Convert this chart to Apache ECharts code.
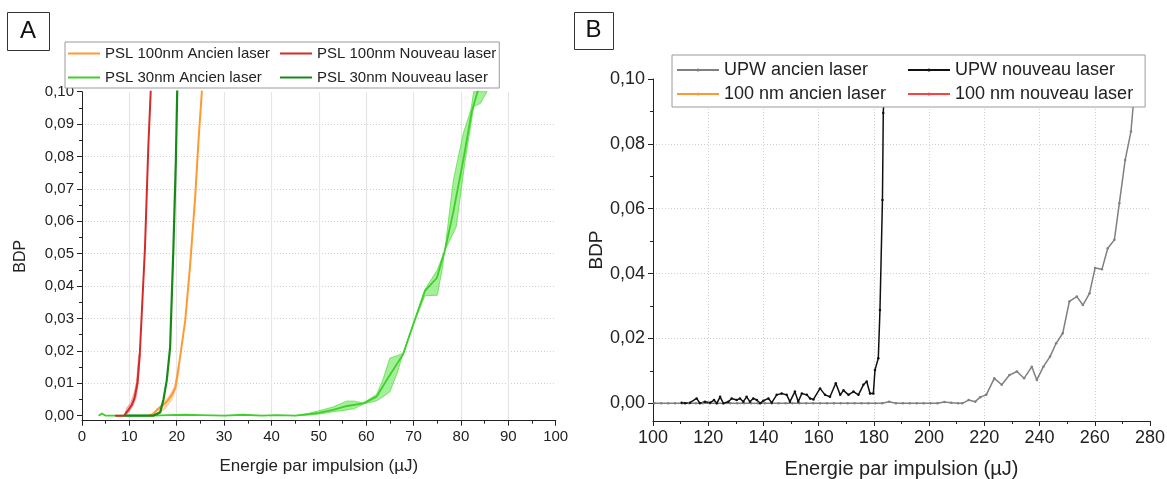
<!DOCTYPE html>
<html><head><meta charset="utf-8">
<script src="https://cdn.jsdelivr.net/npm/echarts@6/dist/echarts.min.js"></script>
<style>html,body{margin:0;padding:0;background:#fff}#c{width:1167px;height:479px}</style>
</head><body><div id="c"></div>
<script>
// ---------- Panel A data (Energie µJ, BDP) ----------
const namesA = ['PSL 100nm Ancien laser','PSL 100nm Nouveau laser','PSL 30nm Ancien laser','PSL 30nm Nouveau laser'];
const psl100Ancien = [[14,0],[15,0.0004],[15.8,0.0018],[16.8,0.003],[17.9,0.0043],[19,0.0065],[19.7,0.0085],[20.7,0.018],[21.8,0.0295],[22.8,0.046],[23.9,0.0676],[24.6,0.085],[25.3,0.1],[25.7,0.11]];
const psl100AncienUpper = [[14,0],[15.5,0.0015],[17,0.0038],[18.5,0.0062],[19.5,0.009],[20.3,0.014]];
const psl100AncienLower = [[14,0],[16,0.0008],[17.5,0.002],[19,0.005],[20,0.0095],[20.6,0.015]];
const psl100Nouveau = [[7,0],[8,0],[8.9,0],[9.8,0.0018],[10.5,0.0033],[11.1,0.0055],[11.7,0.010],[12.2,0.019],[12.7,0.034],[13.3,0.052],[14,0.083],[14.5,0.1],[14.8,0.11]];
const psl100NouveauUpper = [[8.9,0],[9.5,0.0025],[10.3,0.004],[11,0.007],[11.5,0.0105],[12,0.019]];
const psl100NouveauLower = [[8.9,0],[9.8,0.001],[10.7,0.0028],[11.5,0.006],[11.9,0.0105],[12.3,0.019]];
const psl30Ancien = [[3.5,0],[4.2,0.0007],[5,0],[10,0],[15,0],[18,0.0002],[22,0.0003],[25,0.0002],[30,0],[34,0.0003],[38,0],[41,0.0002],[45,0],[48,0.0005],[50,0.0009],[53,0.0018],[56,0.003],[59.4,0.0038],[62.2,0.0059],[65,0.0126],[67.8,0.019],[70,0.0285],[72.4,0.0385],[74.9,0.0425],[76.6,0.051],[78.4,0.063],[80.5,0.079],[82.3,0.094],[83.5,0.1],[84.5,0.105]];
const psl30AncienUpper = [[45,0],[48,0.0008],[50,0.0015],[53,0.0027],[55.9,0.0045],[57.5,0.0045],[59.4,0.0039],[62.2,0.0066],[63.5,0.011],[65,0.0178],[66.5,0.0185],[67.8,0.0193],[70,0.0285],[72.4,0.039],[73.5,0.0415],[75,0.045],[76.6,0.051],[78.4,0.0727],[80.5,0.0872],[82.1,0.0944],[82.7,0.1]];
const psl30AncienLower = [[45,0],[48,0.0002],[50,0.0005],[53,0.0012],[55.9,0.0018],[57.5,0.0022],[59.4,0.0036],[62.2,0.0046],[63.5,0.0058],[65,0.0074],[66.5,0.013],[67.8,0.0193],[70,0.0285],[72.4,0.037],[75,0.0372],[76,0.045],[76.6,0.051],[79,0.0583],[80.8,0.0779],[82.7,0.0954],[84.1,0.0964],[85.5,0.1]];
const psl30Nouveau = [[9,0],[12,0],[15,0],[16.5,0.001],[17.2,0.005],[17.9,0.011],[18.6,0.021],[19.3,0.052],[19.8,0.078],[20.1,0.1],[20.3,0.11]];
const xTicksA = [0,10,20,30,40,50,60,70,80,90,100];
const yTicksA = [0,0.01,0.02,0.03,0.04,0.05,0.06,0.07,0.08,0.09,0.1];

// ---------- Panel B data ----------
const namesB = ['UPW ancien laser','UPW nouveau laser','100 nm ancien laser','100 nm nouveau laser'];
const upwAncien = [[100.5,0],[103,0],[105.5,0],[108,0],[110.5,0],[113,0],[115.5,0],[118,0],[120.5,0],[123,0],[125.5,0],[128,0],[130.5,0],[133,0],[135.5,0],[138,0],[140.5,0],[143,0],[145.5,0],[148,0],[150.5,0],[153,0],[155.5,0],[158,0],[160.5,0],[163,0],[165.5,0],[168,0],[170.5,0],[173,0],[175.5,0],[178,0],[180.5,0],[183,0],[185.5,0.0005],[188,0],[190.5,0],[193,0],[195.5,0],[198,0],[200.5,0],[203,0],[205.5,0.0004],[208,0.0002],[210.5,0],[212,0],[214.3,0.001],[216.7,0.0005],[218.5,0.0019],[220.7,0.0026],[223.6,0.0077],[226.3,0.0057],[229.1,0.0087],[231.8,0.0098],[234.4,0.0077],[237.2,0.0113],[239,0.0072],[241.4,0.0113],[243.8,0.0144],[246,0.0185],[248.4,0.0216],[250.8,0.0314],[253.5,0.0329],[255.7,0.0303],[258.1,0.0339],[260.1,0.0417],[262.6,0.0413],[264.7,0.0478],[267.1,0.0504],[268.9,0.0617],[271,0.075],[273.1,0.0838],[274,0.0926],[275,0.105]];
const upwNouveau = [[110.4,0.0002],[111.6,0],[113.4,0.0002],[115.8,0.0015],[117,0],[118.8,0.0005],[120.7,0.0002],[122.1,0.001],[123.1,0],[124.3,0.002],[125.5,0],[127.3,0.0005],[128.5,0.0015],[130.3,0.001],[131.5,0.0015],[132.7,0.0005],[133.9,0.002],[135.1,0.0005],[136.3,0.0015],[137.6,0.001],[138.8,0],[140,0.0008],[141.8,0.0015],[143,0.0002],[144.8,0.0026],[146.6,0.003],[148.4,0.0026],[149.6,0.0005],[151.4,0.0036],[152.6,0.0005],[153.9,0.003],[155.7,0.0026],[156.9,0.0015],[158.1,0.0012],[160.5,0.0046],[162.3,0.0026],[164.1,0.002],[166.2,0.0062],[167.8,0.0026],[169,0.004],[170.8,0.0026],[172.6,0.0036],[174.4,0.0026],[176.2,0.0057],[177.4,0.0067],[178.6,0.003],[179.8,0.003],[180.4,0.0103],[181.6,0.0139],[182.2,0.0288],[183.1,0.0627],[183.4,0.0895],[183.7,0.0957],[184,0.12]];
const nm100Ancien = [];
const nm100Nouveau = [];
const xTicksB = [100,120,140,160,180,200,220,240,260,280];
const yTicksB = [0,0.02,0.04,0.06,0.08,0.1];

const FONT = "'Liberation Sans', Arial, sans-serif";
const fmtY = v => (v < -1e-9 ? '' : v.toFixed(2).replace('.', ','));

function band(idx, upper, lower, fill, stroke) {
  return {
    type: 'custom', xAxisIndex: idx, yAxisIndex: idx, data: [0], silent: true, z: 1,
    renderItem: (params, api) => {
      const pts = upper.map(p => api.coord(p)).concat(lower.slice().reverse().map(p => api.coord(p)));
      return { type: 'polygon', shape: { points: pts }, style: { fill: fill, stroke: stroke, lineWidth: 0.8 } };
    }
  };
}
function lineA(name, data, color, width) {
  return { name: name, type: 'line', xAxisIndex: 0, yAxisIndex: 0, data: data, symbol: 'none',
    lineStyle: { color: color, width: width }, itemStyle: { color: color }, z: 3, clip: true };
}
function lineB(name, data, color, width, sym) {
  return { name: name, type: 'line', xAxisIndex: 1, yAxisIndex: 1, data: data,
    symbol: sym ? 'circle' : 'none', symbolSize: 2.5, showAllSymbol: true,
    lineStyle: { color: color, width: width }, itemStyle: { color: color }, z: 3, clip: true };
}
function xAxisCfg(idx, min, max, interval, fs, nameGap, margin) {
  return {
    gridIndex: idx, type: 'value', min: min, max: max, interval: interval,
    name: 'Energie par impulsion (µJ)', nameLocation: 'middle', nameGap: nameGap,
    nameTextStyle: { fontFamily: FONT, fontSize: fs + 2, color: '#222' },
    axisLine: { show: true, onZero: false, lineStyle: { color: '#222', width: 1 } },
    axisTick: { show: true, inside: false, length: 5, lineStyle: { color: '#222' } },
    minorTick: { show: true, splitNumber: 2, length: 3, lineStyle: { color: '#222' } },
    axisLabel: { fontFamily: FONT, fontSize: fs, color: '#222', margin: margin },
    splitLine: { show: true, showMinLine: false, showMaxLine: false,
      lineStyle: idx === 0 ? { color: '#e6e6e6', width: 1.2 } : { color: '#d0d0d0', type: [1, 2] } }
  };
}
function yAxisCfg(idx, min, interval, ticks, fs, nameGap) {
  return {
    gridIndex: idx, type: 'value', min: min, max: 0.1, splitNumber: 10,
    minInterval: interval, maxInterval: interval,
    name: 'BDP', nameLocation: 'middle', nameGap: nameGap,
    nameTextStyle: { fontFamily: FONT, fontSize: fs + 1, color: '#222' },
    axisLine: { show: true, onZero: false, lineStyle: { color: '#222', width: 1 } },
    axisTick: { show: true, inside: false, length: 5, customValues: ticks, lineStyle: { color: '#222' } },
    minorTick: { show: true, splitNumber: 2, length: 3, lineStyle: { color: '#222' } },
    axisLabel: { fontFamily: FONT, fontSize: fs, color: '#222', margin: 8, customValues: ticks, formatter: fmtY },
    splitLine: { show: true, showMinLine: false, showMaxLine: false, lineStyle: { color: '#cfcfcf', type: [1, 2] } }
  };
}

const chart = echarts.init(document.getElementById('c'), null, { renderer: 'canvas' });
chart.setOption({
  animation: false,
  backgroundColor: '#fff',
  textStyle: { fontFamily: FONT },
  grid: [
    { left: 82, top: 91.7, width: 473.7, height: 329, containLabel: false, outerBoundsMode: 'none' },
    { left: 653, top: 79, width: 497, height: 342, containLabel: false, outerBoundsMode: 'none' }
  ],
  xAxis: [
    xAxisCfg(0, 0, 100, 10, 15, 37, 9),
    xAxisCfg(1, 100, 280, 20, 18, 38, 8)
  ],
  yAxis: [
    yAxisCfg(0, -0.00154, 0.01, yTicksA, 15, 53),
    yAxisCfg(1, -0.00546, 0.02, yTicksB, 18, 46)
  ],
  legend: [
    { data: namesA, left: 65, top: 42, orient: 'horizontal', width: 450,
      padding: [4, 3, 3, 3], itemWidth: 32, itemHeight: 2, itemGap: 9, icon: 'rect',
      textStyle: { fontFamily: FONT, fontSize: 15, color: '#222', width: 166, lineHeight: 14 },
      borderColor: '#9a9a9a', borderWidth: 1, backgroundColor: '#fff', z: 10, selectedMode: false },
    { data: namesB, left: 672, top: 55, orient: 'horizontal', width: 470,
      padding: [6, 12, 4, 4], itemWidth: 42, itemHeight: 4, itemGap: 6,
      textStyle: { fontFamily: FONT, fontSize: 18, color: '#222', width: 177, lineHeight: 16 },
      borderColor: '#9a9a9a', borderWidth: 1, backgroundColor: '#fff', z: 10, selectedMode: false }
  ],
  graphic: [
    { type: 'rect', left: 7, top: 12, z: 20, shape: { width: 42, height: 38 }, style: { fill: '#fff', stroke: '#333', lineWidth: 1 } },
    { type: 'text', x: 28, y: 31, z: 21, style: { text: 'A', font: '24px ' + FONT, fill: '#111', align: 'center', verticalAlign: 'middle' } },
    { type: 'rect', left: 574, top: 12, z: 20, shape: { width: 39, height: 37 }, style: { fill: '#fff', stroke: '#333', lineWidth: 1 } },
    { type: 'text', x: 593.5, y: 30.5, z: 21, style: { text: 'B', font: '24px ' + FONT, fill: '#111', align: 'center', verticalAlign: 'middle' } }
  ],
  series: [
    band(0, psl30AncienUpper, psl30AncienLower, 'rgba(90,225,70,0.55)', '#5ee04a'),
    band(0, psl100AncienUpper, psl100AncienLower, 'rgba(255,170,90,0.45)', 'rgba(255,160,80,0.6)'),
    band(0, psl100NouveauUpper, psl100NouveauLower, 'rgba(230,80,80,0.35)', 'rgba(220,60,60,0.5)'),
    lineA(namesA[2], psl30Ancien, '#3fcf2a', 1.8),
    lineA(namesA[0], psl100Ancien, '#ff9933', 2),
    lineA(namesA[1], psl100Nouveau, '#d42a2a', 2),
    lineA(namesA[3], psl30Nouveau, '#168a16', 2.2),
    lineB(namesB[0], upwAncien, '#808080', 1.5, true),
    lineB(namesB[1], upwNouveau, '#111111', 1.5, true),
    lineB(namesB[2], nm100Ancien, '#ff9933', 2, false),
    lineB(namesB[3], nm100Nouveau, '#ff4040', 2, false)
  ]
});
</script>
</body></html>
